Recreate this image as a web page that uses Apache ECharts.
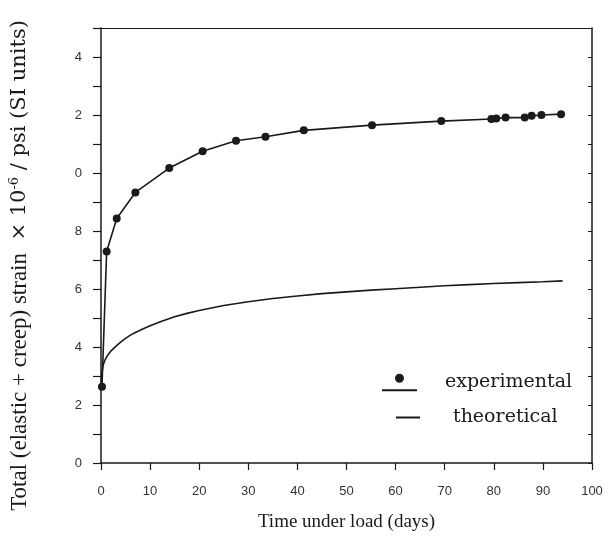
<!DOCTYPE html>
<html><head><meta charset="utf-8">
<script src="https://cdn.jsdelivr.net/npm/echarts@6/dist/echarts.min.js"></script>
<style>html,body{margin:0;padding:0;background:#fff}#c{width:611px;height:541px}</style>
</head><body><div id="c"></div>
<script>
const expDays = [0.2, 1.15, 3.2, 7.0, 13.9, 20.7, 27.5, 33.5, 41.3, 55.2, 69.3, 79.5, 80.5, 82.4, 86.3, 87.7, 89.7, 93.7];
const expStrain = [2.63, 7.29, 8.43, 9.33, 10.17, 10.75, 11.11, 11.25, 11.47, 11.65, 11.79, 11.86, 11.88, 11.91, 11.91, 11.97, 12.00, 12.03];
const theoDays = [0, 0.15, 0.4, 0.8, 1.3, 2, 3, 4, 5, 6, 7, 8.5, 10, 12.5, 15, 17.5, 20, 25, 30, 35, 40, 45, 50, 55, 60, 65, 70, 75, 80, 85, 90, 94];
const theoStrain = [2.63, 3.05, 3.35, 3.55, 3.7, 3.86, 4.02, 4.17, 4.3, 4.41, 4.5, 4.62, 4.73, 4.9, 5.04, 5.16, 5.26, 5.43, 5.56, 5.67, 5.76, 5.84, 5.9, 5.96, 6.01, 6.06, 6.11, 6.15, 6.19, 6.22, 6.25, 6.28];
const xTickLabels = ['0','10','20','30','40','50','60','70','80','90','100'];
const yTickLabels = ['0','2','4','6','8','0','2','4'];

const ink = '#1a1a1a';
const chart = echarts.init(document.getElementById('c'));
chart.setOption({
  animation: false,
  backgroundColor: '#fff',
  grid: {left: 96, right: 19, top: 28, bottom: 78},
  legend: [
    {left: 377, top: 368, orient: 'vertical', data: ['experimental'],
     icon: 'path://M13,5a4.5,4.5 0 1,0 9,0a4.5,4.5 0 1,0 -9,0Z M0,16h35v2h-35Z',
     itemWidth: 35, itemHeight: 18,
     textStyle: {fontFamily: 'DejaVu Serif', fontSize: 19, color: ink, padding: [0,0,0,23]}},
    {left: 391, top: 403, orient: 'vertical', data: ['theoretical'],
     icon: 'path://M0,0h24v2h-24Z', itemWidth: 24, itemHeight: 2,
     textStyle: {fontFamily: 'DejaVu Serif', fontSize: 19, color: ink, padding: [0,0,0,28]}}
  ],
  xAxis: [
    {type: 'value', min: 0, max: 100, interval: 10, position: 'bottom',
     name: 'Time under load (days)', nameLocation: 'middle', nameGap: 50,
     nameTextStyle: {fontFamily: 'Liberation Serif', fontSize: 19, color: ink},
     axisLine: {show: true, onZero: false, lineStyle: {color: ink, width: 1.5}},
     axisTick: {show: true, inside: false, length: 7, lineStyle: {color: ink, width: 1.2}},
     axisLabel: {margin: 22, fontFamily: 'Liberation Sans', fontSize: 13, color: '#333',
                 formatter: v => xTickLabels[Math.round(v / 10)] ?? ''},
     splitLine: {show: false}},
    {type: 'value', min: 0, max: 100, position: 'top',
     axisLine: {show: true, onZero: false, lineStyle: {color: ink, width: 1.2}},
     axisTick: {show: false}, axisLabel: {show: false}, splitLine: {show: false}}
  ],
  yAxis: [
    {type: 'value', min: 0, max: 15, interval: 1, position: 'left',
     name: '{a|Total (elastic + creep) strain }{b| \u00d7 10}{sup|-6}{b| / psi (SI units)}',
     nameLocation: 'middle', nameGap: 70, nameRotate: 90,
     nameTextStyle: {color: ink, padding: [0, 40, 0, 0],
       rich: {
         a: {fontFamily: 'Liberation Serif', fontSize: 23, color: ink},
         b: {fontFamily: 'DejaVu Serif', fontSize: 21, color: ink},
         sup: {fontFamily: 'DejaVu Serif', fontSize: 13, color: ink, verticalAlign: 'top', padding: [0,0,10,0]}}},
     axisLine: {show: true, onZero: false, lineStyle: {color: ink, width: 1.5}},
     axisTick: {show: true, inside: false, length: 8, lineStyle: {color: ink, width: 1.2}},
     axisLabel: {margin: 19, fontFamily: 'Liberation Sans', fontSize: 13, color: '#333',
                 formatter: v => (v % 2 === 0 ? (yTickLabels[v / 2] ?? '') : '')},
     splitLine: {show: false}},
    {type: 'value', min: 0, max: 15, interval: 1, position: 'right',
     axisLine: {show: true, onZero: false, lineStyle: {color: ink, width: 1.5}},
     axisTick: {show: true, inside: true, length: 4, lineStyle: {color: ink, width: 1}},
     axisLabel: {show: false}, splitLine: {show: false}}
  ],
  series: [
    {name: 'experimental', type: 'line', smooth: false,
     data: expDays.map((d, i) => [d, expStrain[i]]),
     symbol: 'circle', symbolSize: 8, showSymbol: true,
     itemStyle: {color: ink}, lineStyle: {color: ink, width: 1.6}},
    {name: 'theoretical', type: 'line', smooth: false,
     data: theoDays.map((d, i) => [d, theoStrain[i]]),
     symbol: 'none', itemStyle: {color: ink}, lineStyle: {color: ink, width: 1.6}}
  ]
});
</script></body></html>
